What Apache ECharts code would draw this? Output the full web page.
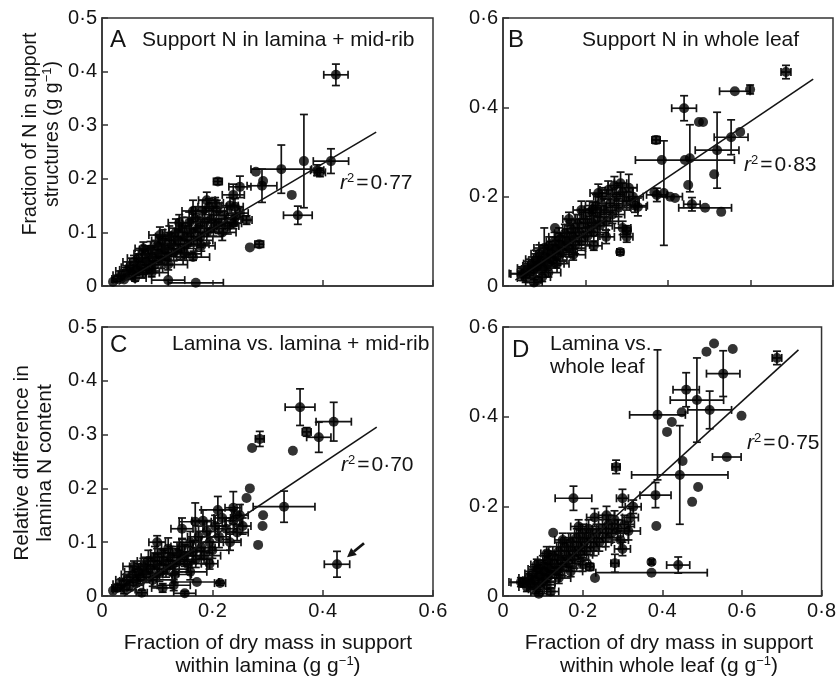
<!DOCTYPE html>
<html>
<head>
<meta charset="utf-8">
<script src="https://cdn.jsdelivr.net/npm/echarts@6/dist/echarts.min.js"></script>
<style>
html,body{margin:0;padding:0;background:#fff;}
#chart{width:839px;height:678px;}
</style>
</head>
<body>
<div id="chart"></div>
<script>
// ---------- DATA: [x, y, xErr, yErr] ----------
// Panel A: support N in lamina + mid-rib
const pointsA = [
  [0.020,0.008,0,0],[0.028,0.013,0.01,0.005],[0.035,0.020,0.015,0.008],[0.040,0.012,0.02,0],
  [0.045,0.028,0.02,0.01],[0.050,0.035,0.015,0.01],[0.055,0.022,0.025,0.008],[0.058,0.045,0.02,0.012],
  [0.062,0.030,0.03,0.01],[0.066,0.052,0.02,0.015],[0.070,0.038,0.025,0.012],[0.074,0.025,0.03,0.01],
  [0.078,0.060,0.02,0.015],[0.080,0.045,0.03,0.015],[0.085,0.033,0.025,0.01],[0.088,0.068,0.02,0.015],
  [0.092,0.052,0.03,0.02],[0.096,0.040,0.035,0.012],[0.100,0.075,0.025,0.02],[0.103,0.060,0.03,0.015],
  [0.107,0.048,0.04,0.015],[0.110,0.085,0.02,0.02],[0.114,0.068,0.03,0.02],[0.118,0.055,0.035,0.015],
  [0.122,0.092,0.025,0.02],[0.126,0.078,0.03,0.02],[0.130,0.062,0.04,0.015],[0.134,0.100,0.02,0.025],
  [0.138,0.085,0.035,0.02],[0.142,0.070,0.03,0.02],[0.146,0.108,0.025,0.02],[0.150,0.092,0.03,0.02],
  [0.154,0.078,0.04,0.02],[0.158,0.118,0.02,0.02],[0.162,0.100,0.03,0.025],[0.166,0.085,0.035,0.02],
  [0.170,0.128,0.025,0.02],[0.174,0.108,0.03,0.02],[0.178,0.092,0.04,0.02],[0.182,0.140,0.02,0.02],
  [0.186,0.118,0.03,0.02],[0.190,0.100,0.03,0.02],[0.194,0.148,0.02,0.015],[0.198,0.125,0.025,0.02],
  [0.202,0.108,0.03,0.015],[0.208,0.140,0.02,0.02],[0.212,0.118,0.03,0.02],[0.218,0.100,0.025,0.015],
  [0.222,0.132,0.02,0.015],[0.228,0.112,0.02,0.015],[0.232,0.150,0.015,0.015],[0.240,0.125,0.015,0.01],
  [0.060,0.015,0.02,0.006],[0.090,0.025,0.03,0.008],[0.120,0.040,0.035,0.01],[0.150,0.060,0.03,0.012],
  [0.180,0.075,0.025,0.01],[0.075,0.070,0.015,0.012],[0.105,0.095,0.02,0.015],[0.140,0.118,0.02,0.015],
  [0.165,0.140,0.02,0.02],[0.190,0.160,0.015,0.015],[0.205,0.155,0.015,0.01],
  [0.424,0.394,0.022,0.02],[0.415,0.233,0.032,0.023],[0.390,0.216,0.012,0.01],[0.395,0.212,0.01,0.008],
  [0.366,0.233,0,0.087],[0.325,0.218,0.055,0.045],[0.292,0.196,0,0],[0.290,0.187,0.027,0.031],
  [0.279,0.213,0,0],[0.344,0.170,0,0],[0.355,0.132,0.026,0.017],[0.210,0.195,0.008,0.006],
  [0.268,0.072,0,0],[0.285,0.078,0.008,0.006],[0.120,0.011,0.03,0],[0.170,0.006,0.05,0],
  [0.165,0.054,0.03,0.006],[0.238,0.170,0.02,0.02],[0.250,0.185,0.02,0.02],[0.241,0.148,0.015,0.015],
  [0.250,0.136,0.015,0.01],[0.262,0.123,0.01,0.008],[0.238,0.117,0.015,0.01]
];
// Panel B: support N in whole leaf
const pointsB = [
  [0.045,0.028,0.03,0.015],[0.055,0.018,0.02,0.01],[0.060,0.040,0.025,0.015],[0.065,0.030,0.03,0.012],
  [0.070,0.050,0.02,0.015],[0.075,0.038,0.03,0.015],[0.080,0.060,0.025,0.02],[0.083,0.045,0.035,0.015],
  [0.088,0.072,0.02,0.02],[0.092,0.055,0.03,0.02],[0.096,0.040,0.035,0.015],[0.100,0.085,0.025,0.045],
  [0.104,0.065,0.03,0.02],[0.108,0.050,0.04,0.015],[0.112,0.090,0.025,0.02],[0.116,0.072,0.03,0.02],
  [0.120,0.058,0.035,0.015],[0.125,0.100,0.02,0.02],[0.128,0.082,0.03,0.02],[0.132,0.066,0.04,0.02],
  [0.136,0.110,0.025,0.02],[0.140,0.092,0.03,0.02],[0.145,0.075,0.035,0.02],[0.150,0.118,0.025,0.02],
  [0.155,0.100,0.03,0.02],[0.160,0.085,0.04,0.02],[0.165,0.128,0.02,0.02],[0.170,0.110,0.03,0.02],
  [0.175,0.092,0.035,0.02],[0.180,0.140,0.025,0.02],[0.185,0.120,0.03,0.02],[0.190,0.100,0.04,0.02],
  [0.195,0.150,0.02,0.02],[0.200,0.130,0.03,0.02],[0.205,0.112,0.03,0.02],[0.210,0.165,0.025,0.025],
  [0.215,0.142,0.03,0.02],[0.220,0.120,0.035,0.02],[0.225,0.180,0.025,0.025],[0.230,0.155,0.03,0.02],
  [0.235,0.135,0.03,0.02],[0.240,0.200,0.02,0.02],[0.245,0.170,0.03,0.025],[0.250,0.145,0.03,0.02],
  [0.255,0.215,0.02,0.02],[0.260,0.185,0.03,0.02],[0.265,0.160,0.03,0.02],[0.270,0.225,0.015,0.02],
  [0.275,0.200,0.02,0.02],[0.280,0.175,0.03,0.02],[0.285,0.230,0.015,0.025],[0.290,0.210,0.025,0.02],
  [0.300,0.190,0.03,0.02],[0.305,0.220,0.02,0.03],[0.315,0.200,0.025,0.02],[0.320,0.180,0.03,0.015],
  [0.290,0.130,0.02,0.015],[0.300,0.110,0.015,0.012],[0.250,0.110,0.02,0.015],[0.220,0.090,0.02,0.01],
  [0.170,0.070,0.03,0.012],[0.130,0.050,0.03,0.01],[0.110,0.030,0.03,0.01],[0.075,0.008,0.02,0.006],
  [0.095,0.020,0.02,0.01],[0.190,0.170,0.02,0.02],[0.160,0.150,0.015,0.015],
  [0.686,0.479,0.012,0.015],[0.562,0.436,0.037,0],[0.599,0.440,0,0.01],[0.439,0.398,0.03,0.028],
  [0.475,0.367,0,0],[0.485,0.367,0,0],[0.371,0.327,0.01,0.008],[0.390,0.208,0,0.117],
  [0.385,0.282,0,0],[0.441,0.282,0.12,0],[0.453,0.286,0,0.075],[0.519,0.304,0.053,0.085],
  [0.553,0.333,0.041,0.039],[0.575,0.345,0,0],[0.512,0.250,0,0],[0.449,0.226,0,0],
  [0.490,0.175,0.064,0],[0.458,0.183,0.02,0.015],[0.529,0.166,0,0],[0.417,0.197,0,0],
  [0.405,0.200,0.03,0],[0.373,0.204,0.025,0.015],[0.367,0.210,0,0],[0.231,0.208,0.02,0.02],
  [0.218,0.172,0.02,0.015],[0.126,0.130,0,0],[0.284,0.076,0.008,0.006],[0.300,0.125,0.01,0.01],
  [0.327,0.177,0.02,0.02],[0.049,0.027,0.03,0.015],[0.085,0.013,0,0]
];
// Panel C: lamina vs. lamina + mid-rib
const flaggedC = [0.426,0.059,0.023,0.024];
const pointsC = [
  [0.020,0.010,0,0],[0.028,0.015,0.01,0.006],[0.035,0.022,0.015,0.01],[0.040,0.012,0.02,0.008],
  [0.045,0.030,0.02,0.01],[0.050,0.020,0.025,0.01],[0.055,0.040,0.02,0.015],[0.058,0.055,0.02,0.01],
  [0.062,0.028,0.03,0.01],[0.066,0.045,0.025,0.015],[0.070,0.035,0.03,0.012],[0.072,0.006,0.01,0.005],
  [0.075,0.055,0.025,0.015],[0.080,0.040,0.03,0.015],[0.084,0.065,0.02,0.02],[0.088,0.050,0.03,0.02],
  [0.092,0.030,0.035,0.012],[0.096,0.072,0.025,0.02],[0.100,0.058,0.03,0.02],[0.104,0.042,0.035,0.015],
  [0.108,0.080,0.02,0.02],[0.112,0.065,0.03,0.02],[0.116,0.050,0.04,0.015],[0.120,0.088,0.02,0.02],
  [0.124,0.072,0.03,0.02],[0.128,0.058,0.035,0.02],[0.132,0.040,0.03,0.015],[0.136,0.080,0.025,0.02],
  [0.140,0.065,0.03,0.02],[0.145,0.092,0.02,0.015],[0.150,0.075,0.03,0.02],[0.155,0.060,0.035,0.015],
  [0.160,0.100,0.02,0.02],[0.165,0.082,0.03,0.02],[0.170,0.068,0.03,0.015],[0.175,0.110,0.02,0.02],
  [0.180,0.090,0.025,0.02],[0.185,0.075,0.03,0.015],[0.190,0.120,0.02,0.02],[0.195,0.100,0.025,0.02],
  [0.200,0.085,0.03,0.015],[0.205,0.130,0.02,0.02],[0.212,0.110,0.02,0.02],[0.218,0.145,0.015,0.015],
  [0.225,0.125,0.02,0.02],[0.232,0.100,0.02,0.015],[0.238,0.140,0.015,0.02],[0.245,0.118,0.02,0.015],
  [0.250,0.150,0.015,0.02],[0.255,0.130,0.015,0.015],[0.160,0.045,0.03,0.015],[0.130,0.020,0.03,0.01],
  [0.110,0.015,0.02,0.008],[0.100,0.100,0.015,0.012],[0.145,0.125,0.02,0.02],[0.183,0.140,0.02,0.02],
  [0.195,0.060,0.015,0.01],[0.150,0.005,0.02,0.004],
  [0.359,0.351,0.027,0.034],[0.420,0.324,0.032,0.036],[0.371,0.305,0.008,0.008],[0.393,0.295,0.022,0.028],
  [0.286,0.292,0.008,0.014],[0.272,0.275,0,0],[0.346,0.270,0,0],[0.330,0.166,0.056,0.029],
  [0.268,0.200,0,0],[0.262,0.182,0,0],[0.292,0.150,0,0],[0.291,0.130,0,0],
  [0.283,0.095,0,0],[0.172,0.026,0.04,0],[0.214,0.024,0.01,0.004],[0.169,0.138,0.029,0.035],
  [0.210,0.160,0.03,0.025],[0.238,0.164,0.015,0.03],[0.245,0.150,0,0],
  flaggedC
];
// Panel D: lamina vs. whole leaf
const pointsD = [
  [0.050,0.030,0.03,0.01],[0.060,0.020,0.02,0.01],[0.065,0.040,0.025,0.015],[0.070,0.028,0.03,0.012],
  [0.075,0.050,0.02,0.015],[0.080,0.035,0.03,0.015],[0.084,0.015,0.02,0.01],[0.088,0.060,0.025,0.02],
  [0.092,0.045,0.03,0.015],[0.096,0.030,0.035,0.012],[0.100,0.070,0.02,0.02],[0.104,0.055,0.03,0.02],
  [0.108,0.040,0.035,0.015],[0.112,0.080,0.025,0.02],[0.116,0.062,0.03,0.02],[0.120,0.048,0.035,0.015],
  [0.125,0.090,0.02,0.02],[0.130,0.072,0.03,0.02],[0.135,0.055,0.035,0.015],[0.140,0.100,0.025,0.02],
  [0.145,0.080,0.03,0.02],[0.150,0.065,0.035,0.02],[0.155,0.110,0.02,0.02],[0.160,0.090,0.03,0.02],
  [0.165,0.072,0.03,0.015],[0.170,0.120,0.025,0.02],[0.175,0.100,0.03,0.02],[0.180,0.082,0.035,0.02],
  [0.185,0.130,0.02,0.02],[0.190,0.110,0.03,0.02],[0.195,0.092,0.03,0.015],[0.200,0.140,0.02,0.02],
  [0.205,0.120,0.03,0.02],[0.210,0.100,0.03,0.02],[0.215,0.150,0.02,0.02],[0.220,0.128,0.03,0.02],
  [0.228,0.110,0.03,0.02],[0.235,0.140,0.025,0.02],[0.242,0.120,0.03,0.02],[0.250,0.150,0.025,0.02],
  [0.258,0.130,0.03,0.02],[0.265,0.160,0.025,0.02],[0.272,0.140,0.03,0.02],[0.280,0.170,0.02,0.02],
  [0.288,0.150,0.03,0.02],[0.295,0.125,0.02,0.02],[0.300,0.105,0.02,0.015],[0.305,0.160,0.025,0.02],
  [0.315,0.145,0.03,0.02],[0.320,0.175,0.02,0.02],[0.085,0.070,0.015,0.012],[0.110,0.095,0.015,0.015],
  [0.150,0.125,0.02,0.015],[0.190,0.155,0.02,0.015],[0.230,0.175,0.02,0.02],[0.260,0.180,0.02,0.02],
  [0.110,0.025,0.02,0.01],[0.140,0.040,0.03,0.012],[0.170,0.055,0.03,0.012],[0.200,0.070,0.02,0.015],
  [0.090,0.005,0.02,0.005],[0.120,0.010,0.02,0.008],
  [0.688,0.531,0.012,0.015],[0.511,0.545,0,0],[0.530,0.563,0,0],[0.577,0.551,0,0],
  [0.553,0.496,0.042,0.051],[0.460,0.460,0.033,0.038],[0.487,0.437,0.067,0.094],[0.519,0.415,0.055,0.042],
  [0.449,0.410,0,0],[0.388,0.404,0.07,0.145],[0.424,0.388,0,0],[0.412,0.366,0,0],
  [0.599,0.402,0,0],[0.562,0.310,0.036,0],[0.451,0.301,0,0],[0.444,0.270,0.121,0.11],
  [0.490,0.243,0,0],[0.475,0.210,0,0],[0.383,0.225,0.039,0.028],[0.284,0.288,0.01,0.015],
  [0.177,0.218,0.046,0.027],[0.385,0.156,0,0],[0.327,0.199,0.02,0.015],[0.300,0.218,0.015,0.02],
  [0.126,0.141,0,0],[0.373,0.076,0.005,0.005],[0.373,0.052,0.14,0],[0.440,0.069,0.029,0.018],
  [0.281,0.073,0.01,0.02],[0.231,0.040,0,0],[0.218,0.065,0.01,0.008],[0.045,0.031,0.03,0.01]
];
// Regression lines (end points)
const fitA = [[0.03,0.003],[0.497,0.287]];
const fitB = [[0.03,0.013],[0.752,0.463]];
const fitC = [[0.04,0.000],[0.498,0.314]];
const fitD = [[0.07,0.005],[0.742,0.549]];
// Axis ranges
const xMaxAC = 0.6, xMaxBD = 0.8;
const yMaxAC = 0.5, yMaxBD = 0.6;
const yIntAC = 0.1, yIntBD = 0.2, xInt = 0.2;
// Texts
const r2Labels = ['0\u00B777','0\u00B783','0\u00B770','0\u00B775'];

// ---------- CHART ----------
const FONT = '"Liberation Sans", Arial, Helvetica, sans-serif';
const INK = '#141414';
const fmt = v => v === 0 ? '0' : v.toFixed(1).replace('.', '\u00B7');

const chart = echarts.init(document.getElementById('chart'), null, {renderer:'canvas'});

const grids = [
  {left:102, top:18, width:331, height:268},
  {left:503, top:18, width:330, height:268},
  {left:102, top:327, width:331, height:269},
  {left:503, top:327, width:330, height:269}
].map(g => Object.assign(g, {show:true, borderColor:'#333', borderWidth:1.5, backgroundColor:'transparent', containLabel:false}));

function xAx(i, max, showLabel){
  return {gridIndex:i, type:'value', min:0, max:max, interval:xInt,
    axisLine:{show:true, lineStyle:{color:'#333', width:1.5}},
    axisTick:{show:true, inside:true, length:6, lineStyle:{color:'#333', width:1.5}},
    axisLabel:{show:showLabel, formatter:fmt, fontSize:20, color:INK, fontFamily:FONT, margin:5},
    splitLine:{show:false}};
}
function yAx(i, max, interval){
  return {gridIndex:i, type:'value', min:0, max:max, interval:interval,
    axisLine:{show:true, lineStyle:{color:'#333', width:1.5}},
    axisTick:{show:true, inside:true, length:6, lineStyle:{color:'#333', width:1.5}},
    axisLabel:{show:true, formatter:fmt, fontSize:20, color:INK, fontFamily:FONT, margin:5},
    splitLine:{show:false}};
}

function errRender(params, api){
  const x = api.value(0), y = api.value(1), xe = api.value(2), ye = api.value(3);
  const cap = 4;
  const ch = [];
  const st = {stroke:INK, lineWidth:1.7, fill:null};
  if (xe > 0){
    const l = api.coord([x - xe, y]), r = api.coord([x + xe, y]);
    ch.push({type:'line', shape:{x1:l[0], y1:l[1], x2:r[0], y2:r[1]}, style:st});
    ch.push({type:'line', shape:{x1:l[0], y1:l[1]-cap, x2:l[0], y2:l[1]+cap}, style:st});
    ch.push({type:'line', shape:{x1:r[0], y1:r[1]-cap, x2:r[0], y2:r[1]+cap}, style:st});
  }
  if (ye > 0){
    const t = api.coord([x, y + ye]), b = api.coord([x, y - ye]);
    ch.push({type:'line', shape:{x1:t[0], y1:t[1], x2:b[0], y2:b[1]}, style:st});
    ch.push({type:'line', shape:{x1:t[0]-cap, y1:t[1], x2:t[0]+cap, y2:t[1]}, style:st});
    ch.push({type:'line', shape:{x1:b[0]-cap, y1:b[1], x2:b[0]+cap, y2:b[1]}, style:st});
  }
  return {type:'group', children:ch};
}

function panelSeries(i, pts, fit){
  return [
    {type:'custom', xAxisIndex:i, yAxisIndex:i, data:pts, encode:{x:0, y:1}, renderItem:errRender, clip:true, silent:true, z:2},
    {type:'scatter', xAxisIndex:i, yAxisIndex:i, data:pts.map(p => [p[0], p[1]]), symbol:'circle', symbolSize:10,
      itemStyle:{color:'#000'}, silent:true, z:3},
    {type:'line', xAxisIndex:i, yAxisIndex:i, data:fit, showSymbol:false, symbol:'none',
      lineStyle:{color:INK, width:1.6}, silent:true, z:4}
  ];
}

const option = {
  animation:false,
  backgroundColor:'#fff',
  grid:grids,
  xAxis:[xAx(0, xMaxAC, false), xAx(1, xMaxBD, false), xAx(2, xMaxAC, true), xAx(3, xMaxBD, true)],
  yAxis:[yAx(0, yMaxAC, yIntAC), yAx(1, yMaxBD, yIntBD), yAx(2, yMaxAC, yIntAC), yAx(3, yMaxBD, yIntBD)],
  series:[].concat(
    panelSeries(0, pointsA, fitA),
    panelSeries(1, pointsB, fitB),
    panelSeries(2, pointsC, fitC),
    panelSeries(3, pointsD, fitD)
  )
};
chart.setOption(option);

const base = {fontFamily:FONT, fill:INK};
const rich = {
  a: Object.assign({fontSize:21, lineHeight:23}, base),
  ay: Object.assign({fontSize:19.5, lineHeight:21}, base),
  s: Object.assign({fontSize:13, lineHeight:23, verticalAlign:'top'}, base),
  it: Object.assign({fontSize:21, fontStyle:'italic', lineHeight:23}, base),
  eq: Object.assign({fontSize:21, lineHeight:23, padding:[0,2,0,2]}, base),
  n: Object.assign({fontSize:21, lineHeight:23}, base)
};
function txt(x, y, text, opts){
  return Object.assign({type:'text', x:x, y:y, silent:true,
    style:Object.assign({text:text, rich:rich, align:'left', verticalAlign:'middle'}, opts && opts.style || {})},
    opts && opts.extra || {});
}
function r2(x, y, val){ return txt(x, y, '{it|r}{s|2}{eq|=}{n|' + val + '}'); }

// arrow pointing at flagged point in panel C
const p = chart.convertToPixel({gridIndex:2}, [flaggedC[0], flaggedC[1]]);
const tail = [p[0] + 27, p[1] - 21];
const tip = [p[0] + 10, p[1] - 7];
const dx = tip[0] - tail[0], dy = tip[1] - tail[1];
const L = Math.hypot(dx, dy), ux = dx / L, uy = dy / L;
const hb = [tip[0] - ux * 9, tip[1] - uy * 9];
const px = -uy, py = ux;

chart.setOption({
  graphic:[
    // panel letters
    {type:'text', x:110, y:40, style:{text:'A', fontSize:24, fontFamily:FONT, fill:INK, verticalAlign:'middle'}},
    {type:'text', x:508, y:40, style:{text:'B', fontSize:24, fontFamily:FONT, fill:INK, verticalAlign:'middle'}},
    {type:'text', x:110, y:345, style:{text:'C', fontSize:24, fontFamily:FONT, fill:INK, verticalAlign:'middle'}},
    {type:'text', x:512, y:350, style:{text:'D', fontSize:24, fontFamily:FONT, fill:INK, verticalAlign:'middle'}},
    // panel captions
    txt(142, 40, '{a|Support N in lamina + mid-rib}'),
    txt(582, 40, '{a|Support N in whole leaf}'),
    txt(172, 344, '{a|Lamina vs. lamina + mid-rib}'),
    txt(550, 344, '{a|Lamina vs.}'),
    txt(550, 367, '{a|whole leaf}'),
    // r2
    r2(340, 183, r2Labels[0]),
    r2(744, 165, r2Labels[1]),
    r2(341, 465, r2Labels[2]),
    r2(747, 443, r2Labels[3]),
    // y-axis titles
    txt(42, 134, '{ay|Fraction of N in support}\n{ay|structures (g g}{s|\u22121}{ay|)}',
      {style:{align:'center'}, extra:{rotation:Math.PI/2}}),
    txt(34, 463, '{a|Relative difference in}\n{a|lamina N content}',
      {style:{align:'center'}, extra:{rotation:Math.PI/2}}),
    // x-axis titles
    txt(268, 655, '{a|Fraction of dry mass in support}\n{a|within lamina (g g}{s|\u22121}{a|)}',
      {style:{align:'center'}}),
    txt(669, 655, '{a|Fraction of dry mass in support}\n{a|within whole leaf (g g}{s|\u22121}{a|)}',
      {style:{align:'center'}}),
    // arrow
    {type:'line', silent:true, shape:{x1:tail[0], y1:tail[1], x2:hb[0], y2:hb[1]}, style:{stroke:INK, lineWidth:2.8}},
    {type:'polygon', silent:true, shape:{points:[tip, [hb[0]+px*4.5, hb[1]+py*4.5], [hb[0]-px*4.5, hb[1]-py*4.5]]}, style:{fill:INK}}
  ]
});
</script>
</body>
</html>
